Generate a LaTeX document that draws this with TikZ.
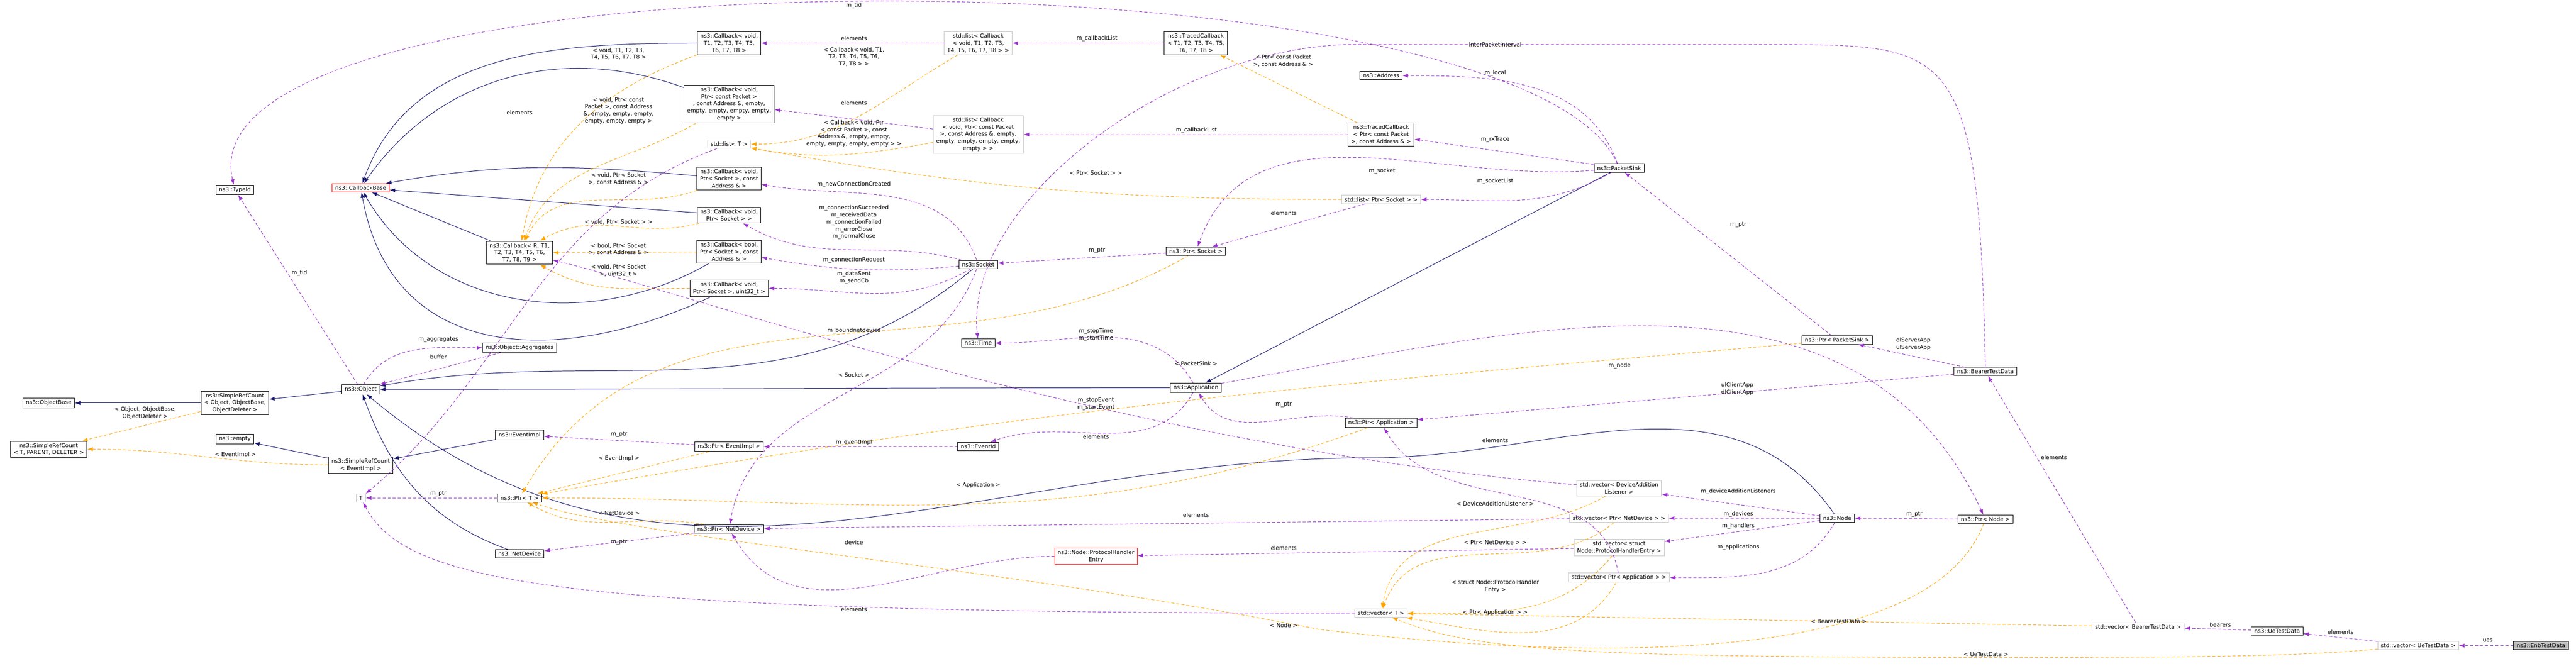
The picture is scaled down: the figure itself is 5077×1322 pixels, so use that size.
\documentclass[tikz,border=0pt]{standalone}
\usepackage{fontspec}
\setmainfont{DejaVu Sans}
\usetikzlibrary{arrows.meta}

\tikzset{
  cls/.style={draw=black,fill=white,align=center,inner xsep=1.5pt,inner ysep=1pt,font=\fontsize{2.75}{3.5}\selectfont,line width=0.25pt},
  ext/.style={cls,draw=gray!45},
  bad/.style={cls,draw=red},
  lbl/.style={align=center,font=\fontsize{2.75}{3.5}\selectfont,inner sep=0.25pt},
  inh/.style={color={rgb,255:red,25;green,25;blue,112},line width=0.25pt,-{Latex[length=2.75pt,width=2pt]}},
  use/.style={color={rgb,255:red,154;green,50;blue,205},line width=0.25pt,dash pattern=on 1.5pt off 1pt,-{Latex[length=2.75pt,width=2pt]}},
  tpl/.style={color={rgb,255:red,255;green,165;blue,0},line width=0.25pt,dash pattern=on 1.5pt off 1pt,-{Latex[length=2.75pt,width=2pt]}}
}

\begin{document}
\begin{tikzpicture}[x=0.25pt,y=-0.25pt]
    \useasboundingbox (0,0) rectangle (5077,1322);

    % the class boxes
    \node[cls] (tid) at (463,374) {ns3::TypeId};
    \node[bad] (cbb) at (711,370) {ns3::CallbackBase};
    \node[cls] (cbR) at (1024,498) {ns3::Callback< R, T1,\\ T2, T3, T4, T5, T6,\\ T7, T8, T9 >};
    \node[cls] (aggr) at (1024,685) {ns3::Object::Aggregates};
    \node[cls] (obj) at (711,767) {ns3::Object};
    \node[cls] (srcObj) at (463,794) {ns3::SimpleRefCount\\< Object, ObjectBase,\\ ObjectDeleter >};
    \node[cls] (objBase) at (96,794) {ns3::ObjectBase};
    \node[cls] (srcT) at (96,885) {ns3::SimpleRefCount\\< T, PARENT, DELETER >};
    \node[cls] (empty) at (463,865) {ns3::empty};
    \node[cls] (srcEv) at (711,916) {ns3::SimpleRefCount\\< EventImpl >};
    \node[cls] (evImpl) at (1024,857) {ns3::EventImpl};
    \node[ext] (tT) at (711,981) {T};
    \node[cls] (ptrT) at (1024,981) {ns3::Ptr< T >};
    \node[cls] (netDev) at (1024,1091) {ns3::NetDevice};

    \node[cls] (cbAll) at (1437,85) {ns3::Callback< void,\\ T1, T2, T3, T4, T5,\\ T6, T7, T8 >};
    \node[cls] (cbPkt) at (1437,205) {ns3::Callback< void,\\ Ptr< const Packet >\\ , const Address \&, empty,\\ empty, empty, empty, empty,\\ empty >};
    \node[ext] (listT) at (1437,284) {std::list< T >};
    \node[cls] (cbSockAddr) at (1437,352) {ns3::Callback< void,\\ Ptr< Socket >, const\\ Address \& >};
    \node[cls] (cbSock) at (1437,424) {ns3::Callback< void,\\ Ptr< Socket > >};
    \node[cls] (cbBool) at (1437,496) {ns3::Callback< bool,\\ Ptr< Socket >, const\\ Address \& >};
    \node[cls] (cbUint) at (1437,568) {ns3::Callback< void,\\ Ptr< Socket >, uint32\_t >};
    \node[ext] (listCbAll) at (1928,85) {std::list< Callback\\< void, T1, T2, T3,\\ T4, T5, T6, T7, T8 > >};
    \node[cls] (tcAll) at (2357,85) {ns3::TracedCallback\\< T1, T2, T3, T4, T5,\\ T6, T7, T8 >};
    \node[ext] (listCbPkt) at (1928,265) {std::list< Callback\\< void, Ptr< const Packet\\ >, const Address \&, empty,\\ empty, empty, empty, empty,\\ empty > >};
    \node[cls] (socket) at (1928,521) {ns3::Socket};
    \node[cls] (ptrSock) at (2357,495) {ns3::Ptr< Socket >};
    \node[cls] (time) at (1928,676) {ns3::Time};
    \node[cls] (ptrEv) at (1437,880) {ns3::Ptr< EventImpl >};
    \node[cls] (evId) at (1928,880) {ns3::EventId};
    \node[cls] (app) at (2357,764) {ns3::Application};
    \node[cls] (ptrNd) at (1437,1042) {ns3::Ptr< NetDevice >};
    \node[bad] (phe) at (2160,1096) {ns3::Node::ProtocolHandler\\Entry};

    \node[cls] (addr) at (2722,149) {ns3::Address};
    \node[cls] (tcPkt) at (2722,265) {ns3::TracedCallback\\< Ptr< const Packet\\ >, const Address \& >};
    \node[cls] (sink) at (3191,331) {ns3::PacketSink};
    \node[ext] (listSock) at (2722,393) {std::list< Ptr< Socket > >};
    \node[cls] (ptrSink) at (3621,670) {ns3::Ptr< PacketSink >};
    \node[cls] (ptrApp) at (2722,833) {ns3::Ptr< Application >};
    \node[ext] (vecDal) at (3191,962) {std::vector< DeviceAddition\\Listener >};
    \node[ext] (vecNd) at (3191,1021) {std::vector< Ptr< NetDevice > >};
    \node[ext] (vecPhe) at (3191,1079) {std::vector< struct\\ Node::ProtocolHandlerEntry >};
    \node[ext] (vecApp) at (3191,1138) {std::vector< Ptr< Application > >};
    \node[ext] (vecT) at (2722,1208) {std::vector< T >};
    \node[cls] (node) at (3621,1021) {ns3::Node};
    \node[cls] (bearer) at (3913,732) {ns3::BearerTestData};
    \node[cls] (ptrNode) at (3913,1023) {ns3::Ptr< Node >};
    \node[ext] (vecBearer) at (4214,1235) {std::vector< BearerTestData >};
    \node[cls] (ue) at (4488,1243) {ns3::UeTestData};
    \node[ext] (vecUe) at (4766,1272) {std::vector< UeTestData >};
    \node[cls,fill=gray!55] (enb) at (5008,1272) {ns3::EnbTestData};

    % inheritance
    \draw[inh] (cbAll) to[out=180,in=70] (cbb);
    \draw[inh] (cbPkt) to[out=160,in=55] (cbb);
    \draw[inh] (cbSockAddr) to[out=175,in=10] (cbb);
    \draw[inh] (cbSock) -- (cbb);
    \draw[inh] (cbR) -- (cbb);
    \draw[inh] (cbBool) to[out=-150,in=-60] (cbb);
    \draw[inh] (cbUint) to[out=-155,in=-80,looseness=1.2] (cbb);
    \draw[inh] (srcObj) -- (objBase);
    \draw[inh] (obj) -- (srcObj);
    \draw[inh] (srcEv) -- (empty);
    \draw[inh] (evImpl) -- (srcEv);
    \draw[inh] (socket) to[out=-140,in=10] (obj);
    \draw[inh] (app) to[out=180,in=0] (obj);
    \draw[inh] (node) to[out=125,in=0] (2700,902) to[out=180,in=-40] (obj);
    \draw[inh] (netDev) to[out=160,in=-70] (obj);
    \draw[inh] (sink) -- (app);

    % template instances
    \draw[tpl] (srcObj) -- (srcT);
    \draw[tpl] (srcEv) to[out=180,in=0] (srcT);
    \draw[tpl] (cbAll) to[out=200,in=80] (cbR);
    \draw[tpl] (cbPkt) to[out=210,in=70] (cbR);
    \draw[tpl] (cbSockAddr) to[out=200,in=65] (cbR);
    \draw[tpl] (cbSock) to[out=195,in=30] (cbR);
    \draw[tpl] (cbBool) -- (cbR);
    \draw[tpl] (cbUint) to[out=180,in=-30] (cbR);
    \draw[tpl] (listCbAll) to[out=-150,in=0] (listT);
    \draw[tpl] (listCbPkt) to[out=190,in=-10] (listT);
    \draw[tpl] (listSock) to[out=180,in=-10] (listT);
    \draw[tpl] (tcPkt) -- (tcAll);
    \draw[tpl] (ptrEv) -- (ptrT);
    \draw[tpl] (ptrNd) to[out=170,in=-30] (ptrT);
    \draw[tpl] (ptrSock) to[out=-150,in=60] (ptrT);
    \draw[tpl] (ptrSink) to[out=185,in=10] (ptrT);
    \draw[tpl] (ptrApp) to[out=-160,in=0] (ptrT);
    \draw[tpl] (ptrNode) .. controls (3800,1320) and (3100,1300) .. (2600,1240)
        .. controls (2000,1120) and (1250,1060) .. (ptrT);
    \draw[tpl] (vecDal) to[out=-150,in=80] (vecT);
    \draw[tpl] (vecNd) to[out=-140,in=70] (vecT);
    \draw[tpl] (vecPhe) to[out=-130,in=0] (vecT);
    \draw[tpl] (vecApp) to[out=-120,in=-10] (vecT);
    \draw[tpl] (vecBearer) -- (vecT);
    \draw[tpl] (vecUe) .. controls (4500,1295) and (4300,1295) .. (3900,1295)
        .. controls (3100,1295) and (2900,1280) .. (vecT);

    % members
    \draw[use] (obj) -- (tid);
    \draw[use] (obj) to[out=60,in=180] (aggr);
    \draw[use] (aggr) -- (obj);
    \draw[use] (ptrT) -- (tT);
    \draw[use] (vecT) .. controls (1100,1208) and (800,1150) .. (tT);
    \draw[use] (listT) to[out=200,in=40] (tT);
    \draw[use] (sink) .. controls (3000,-110) and (350,-110) .. (tid);
    \draw[use] (listCbAll) -- (cbAll);
    \draw[use] (tcAll) -- (listCbAll);
    \draw[use] (listCbPkt) -- (cbPkt);
    \draw[use] (tcPkt) -- (listCbPkt);
    \draw[use] (socket) to[out=110,in=-10] (cbSockAddr);
    \draw[use] (socket) to[out=165,in=-30] (cbSock);
    \draw[use] (socket) to[out=185,in=-10] (cbBool);
    \draw[use] (socket) to[out=-150,in=0] (cbUint);
    \draw[use] (socket) to[out=-110,in=80] (ptrNd);
    \draw[use] (ptrSock) -- (socket);
    \draw[use] (listSock) -- (ptrSock);
    \draw[use] (sink) to[out=185,in=70] (ptrSock);
    \draw[use] (sink) to[out=-150,in=0] (listSock);
    \draw[use] (sink) -- (tcPkt);
    \draw[use] (sink) to[out=110,in=0] (addr);
    \draw[use] (bearer) .. controls (3900,90) and (3850,88) .. (3500,88)
        -- (2650,88) .. controls (2300,100) and (1900,400) .. (time);
    \draw[use] (app) to[out=120,in=0] (time);
    \draw[use] (app) to[out=-120,in=20] (evId);
    \draw[use] (evId) -- (ptrEv);
    \draw[use] (ptrEv) -- (evImpl);
    \draw[use] (ptrNd) -- (netDev);
    \draw[use] (app) to[out=10,in=115] (ptrNode);
    \draw[use] (ptrNode) -- (node);
    \draw[use] (ptrApp) to[out=170,in=-60] (app);
    \draw[use] (ptrSink) -- (sink);
    \draw[use] (bearer) -- (ptrSink);
    \draw[use] (bearer) -- (ptrApp);
    \draw[use] (vecApp) to[out=100,in=-60] (ptrApp);
    \draw[use] (vecDal) .. controls (2200,880) and (1300,560) .. (cbR);
    \draw[use] (vecNd) -- (ptrNd);
    \draw[use] (vecPhe) -- (phe);
    \draw[use] (phe) to[out=180,in=-60] (ptrNd);
    \draw[use] (node) -- (vecDal);
    \draw[use] (node) -- (vecNd);
    \draw[use] (node) -- (vecPhe);
    \draw[use] (node) to[out=-120,in=0] (vecApp);
    \draw[use] (vecBearer) -- (bearer);
    \draw[use] (ue) -- (vecBearer);
    \draw[use] (vecUe) -- (ue);
    \draw[use] (enb) -- (vecUe);

    % edge labels
    \node[lbl] (l1) at (1683,11) {m\_tid};
    \node[lbl] (l2) at (1219,106) {< void, T1, T2, T3,\\ T4, T5, T6, T7, T8 >};
    \node[lbl] (l3) at (1024,222) {elements};
    \node[lbl] (l4) at (1219,218) {< void, Ptr< const\\ Packet >, const Address\\ \&, empty, empty, empty,\\ empty, empty, empty >};
    \node[lbl] (l5) at (1219,352) {< void, Ptr< Socket\\ >, const Address \& >};
    \node[lbl] (l6) at (1219,438) {< void, Ptr< Socket > >};
    \node[lbl] (l7) at (1219,491) {< bool, Ptr< Socket\\ >, const Address \& >};
    \node[lbl] (l8) at (1219,534) {< void, Ptr< Socket\\ >, uint32\_t >};
    \node[lbl] (l9) at (590,538) {m\_tid};
    \node[lbl] (l10) at (864,669) {m\_aggregates};
    \node[lbl] (l11) at (864,703) {buffer};
    \node[lbl] (l12) at (286,814) {< Object, ObjectBase,\\ ObjectDeleter >};
    \node[lbl] (l13) at (464,896) {< EventImpl >};
    \node[lbl] (l14) at (864,973) {m\_ptr};
    \node[lbl] (l15) at (1220,856) {m\_ptr};
    \node[lbl] (l16) at (1220,903) {< EventImpl >};
    \node[lbl] (l17) at (1220,1011) {< NetDevice >};
    \node[lbl] (l18) at (1220,1068) {m\_ptr};
    \node[lbl] (l19) at (1683,76) {elements};
    \node[lbl] (l20) at (1683,112) {< Callback< void, T1,\\ T2, T3, T4, T5, T6,\\ T7, T8 > >};
    \node[lbl] (l21) at (2162,76) {m\_callbackList};
    \node[lbl] (l22) at (1683,203) {elements};
    \node[lbl] (l23) at (1683,263) {< Callback< void, Ptr\\ < const Packet >, const\\ Address \&, empty, empty,\\ empty, empty, empty, empty > >};
    \node[lbl] (l24) at (2529,120) {< Ptr< const Packet\\ >, const Address \& >};
    \node[lbl] (l25) at (2358,257) {m\_callbackList};
    \node[lbl] (l26) at (2160,341) {< Ptr< Socket > >};
    \node[lbl] (l27) at (1683,363) {m\_newConnectionCreated};
    \node[lbl] (l28) at (1683,438) {m\_connectionSucceeded\\ m\_receivedData\\ m\_connectionFailed\\ m\_errorClose\\ m\_normalClose};
    \node[lbl] (l29) at (2530,420) {elements};
    \node[lbl] (l30) at (2162,493) {m\_ptr};
    \node[lbl] (l31) at (1683,512) {m\_connectionRequest};
    \node[lbl] (l32) at (1683,547) {m\_dataSent\\ m\_sendCb};
    \node[lbl] (l33) at (1683,652) {m\_boundnetdevice};
    \node[lbl] (l34) at (2160,660) {m\_stopTime\\ m\_startTime};
    \node[lbl] (l35) at (2357,716) {< PacketSink >};
    \node[lbl] (l36) at (1683,739) {< Socket >};
    \node[lbl] (l37) at (2160,796) {m\_stopEvent\\ m\_startEvent};
    \node[lbl] (l38) at (2530,797) {m\_ptr};
    \node[lbl] (l39) at (2160,860) {elements};
    \node[lbl] (l40) at (1683,872) {m\_eventImpl};
    \node[lbl] (l41) at (1928,956) {< Application >};
    \node[lbl] (l42) at (2357,1015) {elements};
    \node[lbl] (l43) at (1683,1069) {device};
    \node[lbl] (l44) at (2530,1080) {elements};
    \node[lbl] (l45) at (1683,1201) {elements};
    \node[lbl] (l46) at (2530,1232) {< Node >};
    \node[lbl] (l47) at (2947,88) {interPacketInterval};
    \node[lbl] (l48) at (2947,144) {m\_local};
    \node[lbl] (l49) at (2947,275) {m\_rxTrace};
    \node[lbl] (l50) at (2724,337) {m\_socket};
    \node[lbl] (l51) at (2947,357) {m\_socketList};
    \node[lbl] (l52) at (3426,443) {m\_ptr};
    \node[lbl] (l53) at (3771,678) {dlServerApp\\ ulServerApp};
    \node[lbl] (l54) at (3192,721) {m\_node};
    \node[lbl] (l55) at (3424,766) {ulClientApp\\ dlClientApp};
    \node[lbl] (l56) at (2947,868) {elements};
    \node[lbl] (l57) at (3426,968) {m\_deviceAdditionListeners};
    \node[lbl] (l58) at (2947,992) {< DeviceAdditionListener >};
    \node[lbl] (l59) at (3426,1013) {m\_devices};
    \node[lbl] (l60) at (3426,1036) {m\_handlers};
    \node[lbl] (l61) at (2947,1069) {< Ptr< NetDevice > >};
    \node[lbl] (l62) at (3426,1078) {m\_applications};
    \node[lbl] (l63) at (2947,1155) {< struct Node::ProtocolHandler\\ Entry >};
    \node[lbl] (l64) at (2947,1207) {< Ptr< Application > >};
    \node[lbl] (l65) at (3624,1224) {< BearerTestData >};
    \node[lbl] (l66) at (3773,1013) {m\_ptr};
    \node[lbl] (l67) at (4048,901) {elements};
    \node[lbl] (l68) at (3914,1289) {< UeTestData >};
    \node[lbl] (l69) at (4376,1231) {bearers};
    \node[lbl] (l70) at (4613,1245) {elements};
    \node[lbl] (l71) at (4903,1262) {ues};
\end{tikzpicture}
\end{document}
